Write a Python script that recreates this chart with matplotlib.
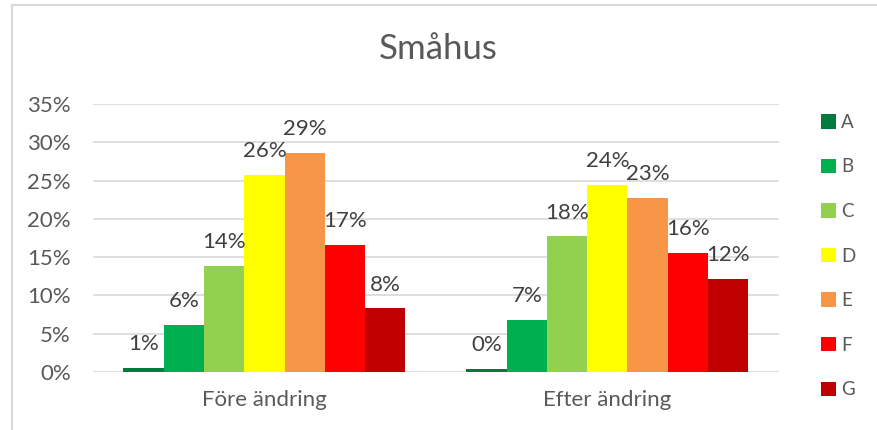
import matplotlib
matplotlib.use("Agg")
from matplotlib import pyplot as plt
from matplotlib.lines import Line2D
import numpy as np

# dati (frazioni)
categories = ['Före ändring', 'Efter ändring']
series = ['A', 'B', 'C', 'D', 'E', 'F', 'G']
fore = [0.0055, 0.061, 0.139, 0.257, 0.286, 0.166, 0.083]
efter = [0.004, 0.068, 0.177, 0.244, 0.227, 0.155, 0.121]
colors = ['#007A3D', '#00B050', '#92D050', '#FFFF00', '#F79646', '#FF0000', '#C00000']
yticks = [0, 0.05, 0.10, 0.15, 0.20, 0.25, 0.30, 0.35]

plt.rcParams['font.family'] = ['Lato', 'DejaVu Sans']
txt = '#595959'

fig = plt.figure(figsize=(8.77, 4.30), dpi=100)
ax = fig.add_axes([0.106, 0.135, 0.782, 0.623])

x = np.arange(len(categories))
w = 0.1175
bars = []
for i, s in enumerate(series):
    vals = [fore[i], efter[i]]
    b = ax.bar(x + (i - 3) * w, vals, width=w, color=colors[i], label=s, zorder=2)
    bars.append(b)
    for xi, v in zip(x + (i - 3) * w, vals):
        ax.annotate(f"{v*100:.0f}%", (xi, v), xytext=(0, 10), textcoords='offset points',
                    ha='center', va='bottom', fontsize=16, color='#404040')

ax.set_xlim(-0.5, 1.5)
ax.set_ylim(0, 0.35)
ax.set_yticks(yticks)
ax.set_yticklabels([f"{t*100:.0f}%" for t in yticks])
ax.set_xticks(x)
ax.set_xticklabels(categories)
ax.tick_params(axis='both', length=0, labelsize=16, labelcolor=txt)
ax.tick_params(axis='y', pad=16)
ax.tick_params(axis='x', pad=13)
ax.grid(axis='y', color='#D9D9D9', lw=1.2, zorder=0)
for sp in ax.spines.values():
    sp.set_visible(False)

fig.text(0.5, 0.885, 'Småhus', ha='center', va='center', fontsize=25, color=txt)

fig.legend(handles=bars, labels=series, loc='upper left', bbox_to_anchor=(0.925, 0.757),
           frameon=False, fontsize=13.5, labelcolor=txt, handlelength=0.8, handleheight=0.8,
           handletextpad=0.3, labelspacing=1.47, borderpad=0)

# bordo del grafico
fig.add_artist(Line2D([12/877, 1], [1 - 5/430, 1 - 5/430], transform=fig.transFigure, color='#D9D9D9', lw=1.5))
fig.add_artist(Line2D([12/877, 12/877], [0, 1 - 5/430], transform=fig.transFigure, color='#D9D9D9', lw=1.5))

plt.savefig('out.png', dpi=100)
